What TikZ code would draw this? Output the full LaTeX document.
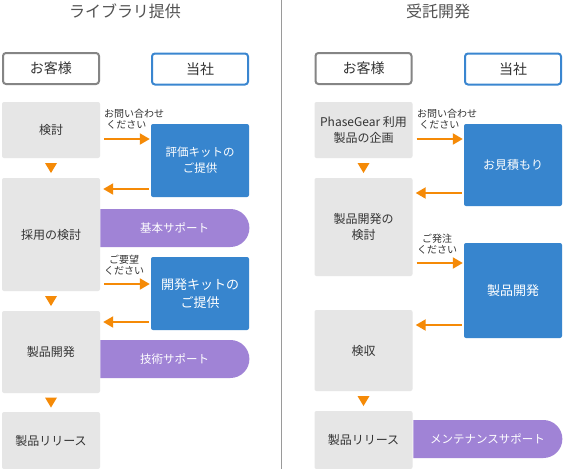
\documentclass[tikz,border=0pt]{standalone}
\usepackage{fontspec}
\setmainfont{Noto Sans CJK JP}
\usetikzlibrary{shapes.misc,calc,arrows.meta}
\definecolor{gborder}{HTML}{858585}
\definecolor{bborder}{HTML}{3A86D0}
\definecolor{gfill}{HTML}{E6E6E6}
\definecolor{bfill}{HTML}{3785CE}
\definecolor{pfill}{HTML}{A083D6}
\definecolor{orng}{HTML}{F58A07}
\definecolor{txt}{HTML}{333333}
\definecolor{divc}{HTML}{9A9A9A}
\tikzset{
  title/.style={font=\fontsize{16}{18}\selectfont, text=txt!85},
  headg/.style={draw=gborder, line width=2pt, rounded corners=3pt, fill=white, minimum width=96pt, minimum height=31pt, inner sep=0pt, font=\fontsize{14}{16}\selectfont, text=txt},
  headb/.style={headg, draw=bborder},
  gbox/.style={fill=gfill, rounded corners=2pt, minimum width=98pt, inner sep=0pt, align=center, font=\fontsize{12}{16}\selectfont, text=txt},
  bbox/.style={fill=bfill, rounded corners=2pt, minimum width=98pt, inner sep=0pt, align=center, font=\fontsize{12}{16}\selectfont, text=white},
  pill/.style={fill=pfill, rounded rectangle, rounded rectangle left arc=none, minimum width=149pt, minimum height=38pt, inner sep=0pt, font=\fontsize{11.5}{14}\selectfont, text=white},
  lbl/.style={font=\fontsize{10}{11}\selectfont, text=txt, inner sep=0pt},
  arr/.style={draw=orng, line width=2pt, -{Triangle[length=10pt,width=11pt]}},
  tri/.style={fill=orng}
}
\begin{document}
\begin{tikzpicture}[x=1pt,y=-1pt]
\useasboundingbox (0,0) rectangle (563,469);
\fill[white] (0,0) rectangle (563,469);
% divider
\coordinate (dtop) at (281.5,0);
\coordinate (dbot) at (281.5,469);
\draw[divc, line width=1pt] (dtop) -- (dbot);

% ===== Left =====
\node[title] (t1) at (125,11) {ライブラリ提供};
\node[headg] (c1) at (51,68.5) {お客様};
\node[headb] (u1) at (200,69) {当社};

\node[gbox, minimum height=56pt] (k1) at (51,130) {検討};
\node[bbox, minimum height=73pt, font=\fontsize{11.5}{16}\selectfont] (e1) at (200,160.5) {評価キットの\\ご提供};
\node[gbox, minimum height=113pt] (s1) at (51,234.5) {採用の検討};
\node[pill] (b1) at (174.5,228) {基本サポート};
\node[bbox, minimum height=73pt, font=\fontsize{13}{18}\selectfont] (d1) at (200,293.5) {開発キットの\\ご提供};
\node[gbox, minimum height=82pt] (p1) at (51,352) {製品開発};
\node[pill] (b2) at (174.5,359) {技術サポート};
\node[gbox, minimum height=57pt] (r1) at (51,440.5) {製品リリース};

\node[lbl, align=left, anchor=north west] (l1) at (104,109) {お問い合わせ\\\ ください};
\node[lbl, align=center, anchor=north] (l2) at (124,255) {ご要望\\ください};

\draw[arr] ([xshift=4pt,yshift=-9pt]k1.east) -- ([xshift=-1pt,yshift=-9pt]k1.east -| e1.west);
\draw[arr] ([xshift=-2pt]e1.west |- 0,189) -- ([xshift=3pt]s1.east |- 0,189);
\draw[arr] ([xshift=4pt]s1.east |- 0,284) -- ([xshift=-1pt]d1.west |- 0,284);
\draw[arr] ([xshift=-2pt]d1.west |- 0,322) -- ([xshift=3pt]p1.east |- 0,322);

\fill[tri] ($(k1.south)!.5!(s1.north)+(-6,-5)$) -- ++(12,0) -- ++(-6,10) -- cycle;
\fill[tri] ($(s1.south)!.5!(p1.north)+(-6,-5)$) -- ++(12,0) -- ++(-6,10) -- cycle;
\fill[tri] ($(p1.south)!.5!(r1.north)+(-6,-5)$) -- ++(12,0) -- ++(-6,10) -- cycle;

% ===== Right =====
\node[title] (t2) at (438,11) {受託開発};
\node[headg] (c2) at (363.5,68.5) {お客様};
\node[headb] (u2) at (513,69) {当社};

\node[gbox, minimum height=56pt] (k2) at (363.5,130) {PhaseGear 利用\\製品の企画};
\node[bbox, minimum height=82pt] (m2) at (513,165) {お見積もり};
\node[gbox, minimum height=98pt] (s2) at (363.5,227) {製品開発の\\検討};
\node[bbox, minimum height=95pt, font=\fontsize{13}{16}\selectfont] (d2) at (513,290.5) {製品開発};
\node[gbox, minimum height=81pt] (a2) at (363.5,350.5) {検収};
\node[gbox, minimum height=58pt] (r2) at (363.5,440) {製品リリース};
\node[pill] (b3) at (487.5,439) {メンテナンスサポート};

\node[lbl, align=left, anchor=north west] (l3) at (417,109) {お問い合わせ\\\ ください};
\node[lbl, align=center, anchor=north] (l4) at (437,234) {ご発注\\ください};

\draw[arr] ([xshift=4pt,yshift=-9pt]k2.east) -- ([xshift=-1pt,yshift=-9pt]k2.east -| m2.west);
\draw[arr] ([xshift=-2pt]m2.west |- 0,193) -- ([xshift=3pt]s2.east |- 0,193);
\draw[arr] ([xshift=4pt]s2.east |- 0,263) -- ([xshift=-1pt]d2.west |- 0,263);
\draw[arr] ([xshift=-2pt]d2.west |- 0,325) -- ([xshift=3pt]a2.east |- 0,325);

\fill[tri] ($(k2.south)!.5!(s2.north)+(-6,-5)$) -- ++(12,0) -- ++(-6,10) -- cycle;
\fill[tri] ($(a2.south)!.5!(r2.north)+(-6,-5)$) -- ++(12,0) -- ++(-6,10) -- cycle;
\end{tikzpicture}
\end{document}
